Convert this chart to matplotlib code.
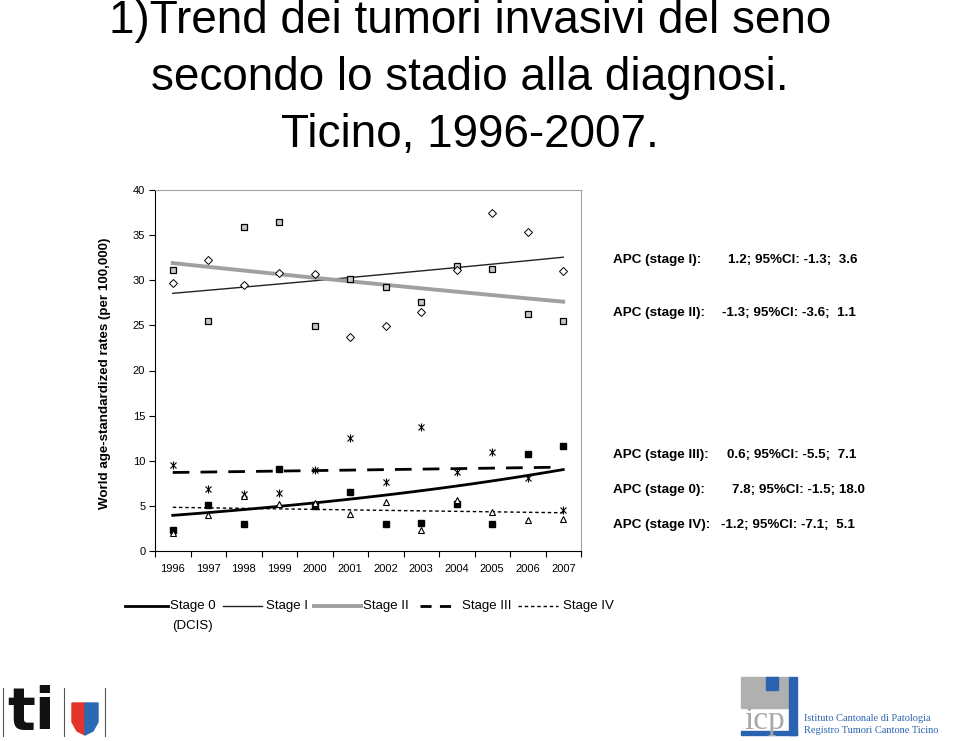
import numpy as np
import matplotlib
matplotlib.use("Agg")
import matplotlib.pyplot as plt
from matplotlib.lines import Line2D
from matplotlib.patches import Rectangle, Polygon

plt.rcParams['font.family'] = ['Liberation Sans', 'DejaVu Sans']

# dati
years = ['1996', '1997', '1998', '1999', '2000', '2001',
         '2002', '2003', '2004', '2005', '2006', '2007']
stage0 = [2.3, 5.1, 3.0, 9.1, 5.0, 6.5, 3.0, 3.1, 5.2, 3.0, 10.7, 11.6]
stage1 = [31.1, 25.5, 35.9, 36.4, 24.9, 30.1, 29.3, 27.6, 31.6, 31.2, 26.3, 25.5]
stage2 = [29.7, 32.2, 29.5, 30.8, 30.7, 23.7, 24.9, 26.5, 31.1, 37.4, 35.4, 31.0]
stage3 = [9.5, 6.9, 6.3, 6.4, 9.0, 12.5, 7.6, 13.7, 8.7, 11.0, 8.05, 4.5]
stage4 = [1.95, 4.0, 6.1, 5.2, 5.35, 4.1, 5.4, 2.3, 5.7, 4.35, 3.4, 3.5]

# trend (valore iniziale 1996 e APC annuo)
trend_start = {'0': 3.95, 'I': 28.55, 'II': 31.9, 'III': 8.7, 'IV': 4.84}
apc = {'0': 7.8, 'I': 1.2, 'II': -1.3, 'III': 0.6, 'IV': -1.2}

apc_labels = ['APC (stage I):', 'APC (stage II):', 'APC (stage III):',
              'APC (stage 0):', 'APC (stage IV):']
apc_values = ['1.2; 95%Cl: -1.3;  3.6', '-1.3; 95%Cl: -3.6;  1.1',
              '0.6; 95%Cl: -5.5;  7.1', '7.8; 95%Cl: -1.5; 18.0',
              '-1.2; 95%Cl: -7.1;  5.1']

W, H = 959, 741
fig = plt.figure(figsize=(9.59, 7.41), dpi=100)

def fx(px):
    return px / W

def fy(py):
    return 1 - py / H

# titolo
title_lines = ['1)Trend dei tumori invasivi del seno',
               'secondo lo stadio alla diagnosi.',
               'Ticino, 1996-2007.']
for line, base in zip(title_lines, [33, 90, 147]):
    fig.text(fx(470), fy(base), line, ha='center', va='baseline', fontsize=33)

ax = fig.add_axes([fx(155), fy(551), fx(581) - fx(155), fy(190) - fy(551)])
x = np.arange(len(years))
t = np.linspace(0, len(years) - 1, 100)

def trend(k):
    return trend_start[k] * (1 + apc[k] / 100) ** t

st0 = dict(color='black', lw=2.0)
st1 = dict(color='#222222', lw=1.0)
st2 = dict(color='#a0a0a0', lw=2.8)
st3 = dict(color='black', lw=2.0, dashes=(6, 4))
st4 = dict(color='black', lw=1.0, dashes=(2.5, 2))

# linee di tendenza
ax.plot(t, trend('I'), **st1)
ax.plot(t, trend('II'), **st2)
ax.plot(t, trend('0'), **st0)
ax.plot(t[:97], trend('III')[:97], **st3)
ax.plot(t, trend('IV'), **st4)

# punti
ax.plot(x, stage1, 's', ms=5, mfc='#c8c8c8', mec='black', mew=0.9)
ax.plot(x, stage2, 'D', ms=4.5, mfc='white', mec='black', mew=0.7)
ax.plot(x, stage0, 's', ms=5, mfc='black', mec='black')
ax.plot(x, stage3, 'x', ms=5, mec='black', mew=0.8)
ax.plot(x, stage3, '|', ms=6, mec='black', mew=0.8)
ax.plot(x, stage4, '^', ms=5, mfc='white', mec='black', mew=0.8)

ax.set_xlim(-0.5, len(years) - 0.5)
ax.set_ylim(0, 40)
ax.set_yticks(range(0, 41, 5))
ax.set_xticks(np.arange(-0.5, len(years), 1))
ax.set_xticklabels([])
ax.set_xticks(x, minor=True)
ax.set_xticklabels(years, minor=True)
ax.tick_params(axis='x', which='minor', length=0, labelsize=8, pad=9)
ax.tick_params(axis='x', which='major', length=4, direction='out')
ax.tick_params(axis='y', length=4, direction='out', labelsize=8, pad=3)
for s in ['top', 'right']:
    ax.spines[s].set_color('#a0a0a0')

fig.text(fx(105), fy(373), 'World age-standardized rates (per 100,000)',
         rotation=90, ha='center', va='center', fontsize=9.6, fontweight='bold')

# testi APC
apc_y = [260, 313, 455, 490, 525]
apc_vx = [728, 722, 727, 732, 721]
for lab, val, yy, vx in zip(apc_labels, apc_values, apc_y, apc_vx):
    fig.text(fx(613), fy(yy), lab, ha='left', va='center', fontsize=9.7, fontweight='bold')
    fig.text(fx(vx), fy(yy), val, ha='left', va='center', fontsize=9.6, fontweight='bold')

# legenda
ly = fy(606)
leg = [((125, 168), st0, 'Stage 0', 170),
       ((223, 262), st1, 'Stage I', 266),
       ((314, 361), st2, 'Stage II', 363),
       ((420, 453), dict(color='black', lw=2.0, dashes=(4, 3)), 'Stage III', 462),
       ((518, 558), st4, 'Stage IV', 563)]
for (x0, x1), st, lab, tx in leg:
    fig.add_artist(Line2D([fx(x0), fx(x1)], [ly, ly], **st))
    fig.text(fx(tx), ly, lab, ha='left', va='center', fontsize=9.5)
fig.text(fx(172), fy(626), '(DCIS)', ha='left', va='center', fontsize=9.5)

# logo ti
for lx in [3, 64, 105]:
    fig.add_artist(Line2D([fx(lx), fx(lx)], [fy(688), fy(736)], color='#555555', lw=0.8))
fig.text(fx(7), fy(730), 'ti', ha='left', va='baseline', fontsize=42,
         fontweight='bold', color='#111111', family='DejaVu Sans')
fig.add_artist(Polygon([[fx(72), fy(703)], [fx(85), fy(703)], [fx(85), fy(735)],
                        [fx(77), fy(731)], [fx(72), fy(722)]],
                       closed=True, color='#e3342a', transform=fig.transFigure))
fig.add_artist(Polygon([[fx(85), fy(703)], [fx(98), fy(703)], [fx(98), fy(722)],
                        [fx(93), fy(731)], [fx(85), fy(735)]],
                       closed=True, color='#2a6ab5', transform=fig.transFigure))

# logo icp
blue = '#2a64b0'
fig.add_artist(Rectangle((fx(741), fy(708)), fx(48), fy(677) - fy(708),
                         color='#b0b0b0', transform=fig.transFigure))
fig.add_artist(Rectangle((fx(766), fy(690)), fx(12), fy(677) - fy(690),
                         color=blue, transform=fig.transFigure))
fig.add_artist(Rectangle((fx(789), fy(735)), fx(8), fy(677) - fy(735),
                         color=blue, transform=fig.transFigure))
fig.add_artist(Rectangle((fx(741), fy(735)), fx(56), fy(731) - fy(735),
                         color=blue, transform=fig.transFigure))
fig.text(fx(765), fy(729), 'icp', ha='center', va='baseline', fontsize=24,
         color='#a8a8a8', family='Liberation Serif')
fig.text(fx(804), fy(721), 'Istituto Cantonale di Patologia', ha='left',
         va='baseline', fontsize=7.5, color=blue, family='Liberation Serif')
fig.text(fx(804), fy(733), 'Registro Tumori Cantone Ticino', ha='left',
         va='baseline', fontsize=7.5, color=blue, family='Liberation Serif')

fig.savefig('out.png', dpi=100)
